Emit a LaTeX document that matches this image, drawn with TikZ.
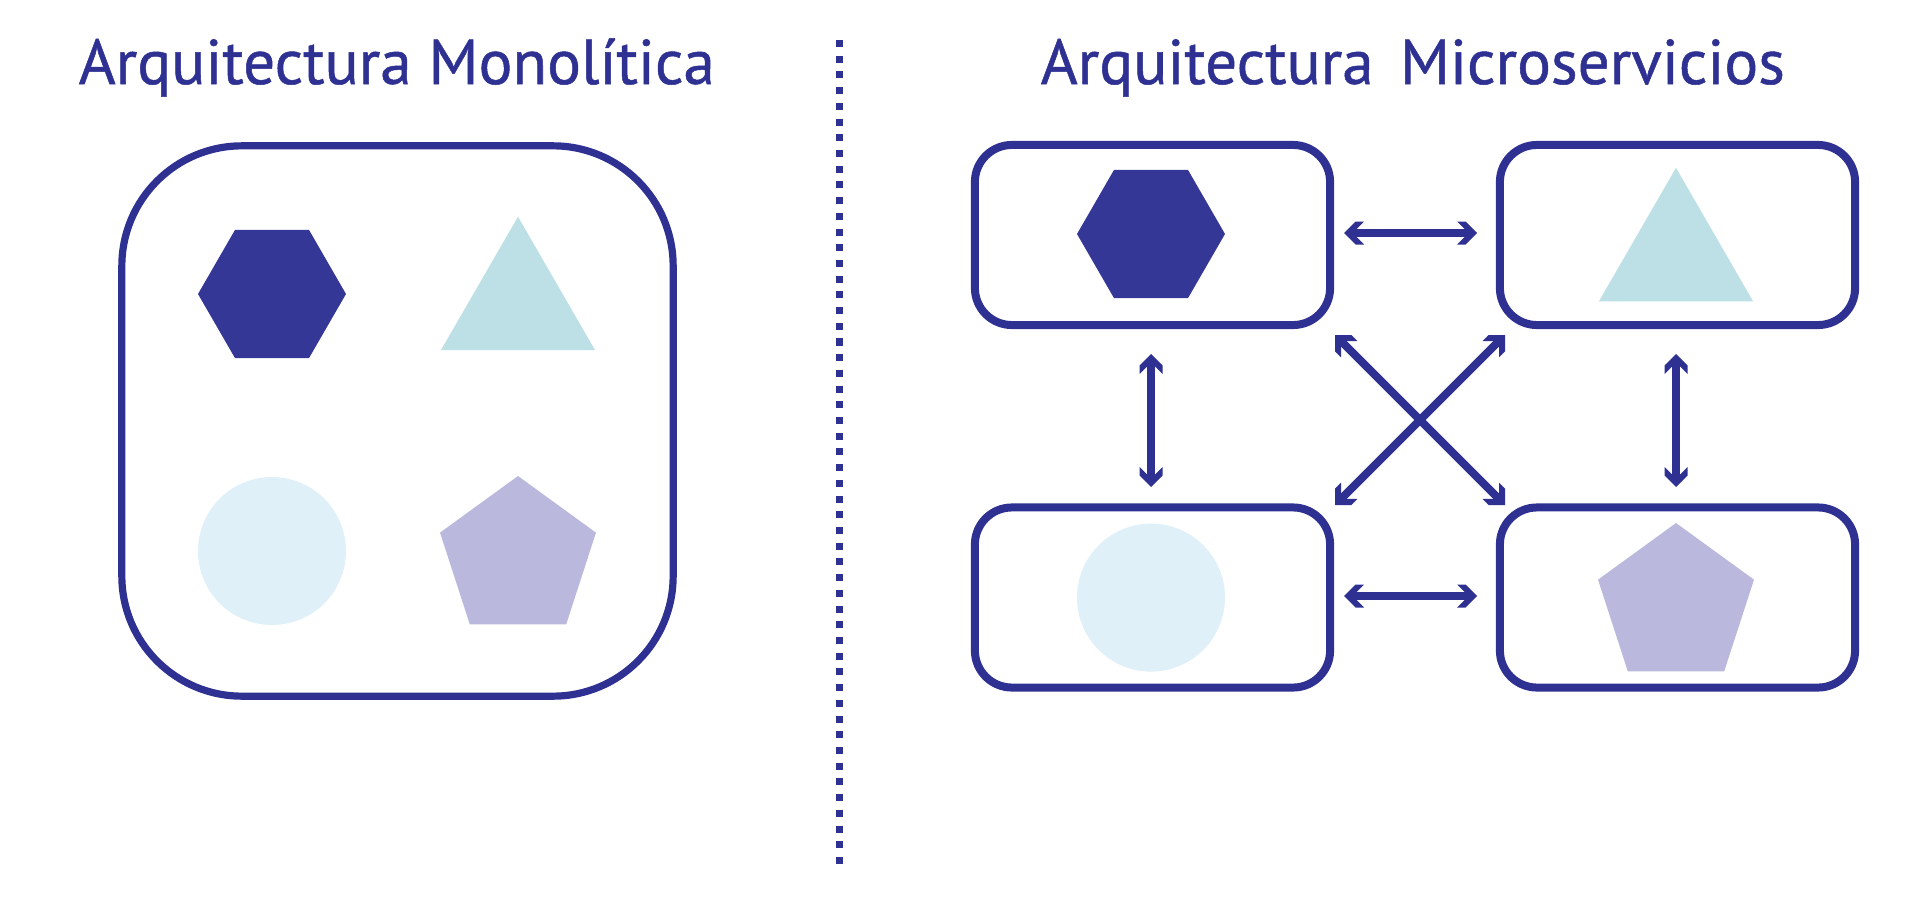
\documentclass[tikz,border=0pt]{standalone}
\usepackage{fontspec}
\setmainfont{PT Sans}
\newfontfamily\titlefont{PT Sans}[FakeBold=0.8]
\definecolor{navy}{HTML}{2E3192}
\definecolor{hexc}{HTML}{343795}
\definecolor{tealc}{HTML}{BCE0E5}
\definecolor{skyc}{HTML}{DFF0F8}
\definecolor{lavc}{HTML}{BAB8DD}
\tikzset{
  titletext/.style={anchor=base west, inner sep=0pt, text=navy, font=\titlefont\fontsize{18}{21}\selectfont},
  monobox/.style={draw=navy, line width=0.072cm, rounded corners=1.2cm, minimum width=5.51cm, minimum height=5.50cm, inner sep=0pt},
  svcbox/.style={draw=navy, line width=0.08cm, rounded corners=0.37cm, minimum width=3.55cm, minimum height=1.80cm, inner sep=0pt},
  shaft/.style={draw=navy, line width=0.08cm, shorten <=0.11cm, shorten >=0.11cm},
  chev/.pic={\fill[navy] (0,0) -- (-11.5,11.5) -- (-20,11.5) -- (-12.5,4) -- (-12.5,-4) -- (-20,-11.5) -- (-11.5,-11.5) -- cycle;},
  divider/.style={draw=navy, line width=0.07cm, dash pattern=on 0.07cm off 0.087cm}
}
\begin{document}
\begin{tikzpicture}[x=0.01cm, y=-0.01cm]
\useasboundingbox (0,0) rectangle (1920,897);
% titles
\node[titletext] (t1) at (78,84) {Arquitectura Monolítica};
\node[titletext] (t2) at (1040,84) {Arquitectura\hspace{0.15em} Microservicios};
% divider
\coordinate (d1) at (839,40);
\coordinate (d2) at (839,872);
\draw[divider] (d1) -- (d2);
% monolithic
\node[monobox] (mono) at (397.5,421) {};
\fill[hexc] (272,294) +(0:74) -- +(60:74) -- +(120:74) -- +(180:74) -- +(240:74) -- +(300:74) -- cycle;
\fill[tealc] (518,305.7) +(-90:89) -- +(30:89) -- +(150:89) -- cycle;
\fill[skyc] (272,551) circle[radius=74];
\fill[lavc] (518,558) +(-90:82) -- +(-18:82) -- +(54:82) -- +(126:82) -- +(198:82) -- cycle;
% microservices
\node[svcbox] (tl) at (1152.5,235) {};
\node[svcbox] (tr) at (1677.5,235) {};
\node[svcbox] (bl) at (1152.5,597.5) {};
\node[svcbox] (br) at (1677.5,597.5) {};
\fill[hexc] (1151,234) +(0:74) -- +(60:74) -- +(120:74) -- +(180:74) -- +(240:74) -- +(300:74) -- cycle;
\fill[tealc] (1676,256.8) +(-90:89) -- +(30:89) -- +(150:89) -- cycle;
\fill[skyc] (1151,597.6) circle[radius=74];
\fill[lavc] (1676,605) +(-90:82) -- +(-18:82) -- +(54:82) -- +(126:82) -- +(198:82) -- cycle;
% arrow end points
\coordinate (h1a) at (1344,233);
\coordinate (h1b) at (1477,233);
\coordinate (h2a) at (1344,596);
\coordinate (h2b) at (1477,596);
\coordinate (v1a) at (1151,354);
\coordinate (v1b) at (1151,487);
\coordinate (v2a) at (1676,354);
\coordinate (v2b) at (1676,487);
\coordinate (x1a) at (1335,335);
\coordinate (x1b) at (1505,505);
\coordinate (x2a) at (1505,335);
\coordinate (x2b) at (1335,505);
% shafts
\draw[shaft] (h1a) -- (h1b);
\draw[shaft] (h2a) -- (h2b);
\draw[shaft] (v1a) -- (v1b);
\draw[shaft] (v2a) -- (v2b);
\draw[shaft] (x1a) -- (x1b);
\draw[shaft] (x2a) -- (x2b);
% heads
\pic[rotate=180] at (h1a) {chev};
\pic at (h1b) {chev};
\pic[rotate=180] at (h2a) {chev};
\pic at (h2b) {chev};
\pic[rotate=90] at (v1a) {chev};
\pic[rotate=-90] at (v1b) {chev};
\pic[rotate=90] at (v2a) {chev};
\pic[rotate=-90] at (v2b) {chev};
\pic[rotate=135] at (x1a) {chev};
\pic[rotate=-45] at (x1b) {chev};
\pic[rotate=45] at (x2a) {chev};
\pic[rotate=-135] at (x2b) {chev};
\end{tikzpicture}
\end{document}
